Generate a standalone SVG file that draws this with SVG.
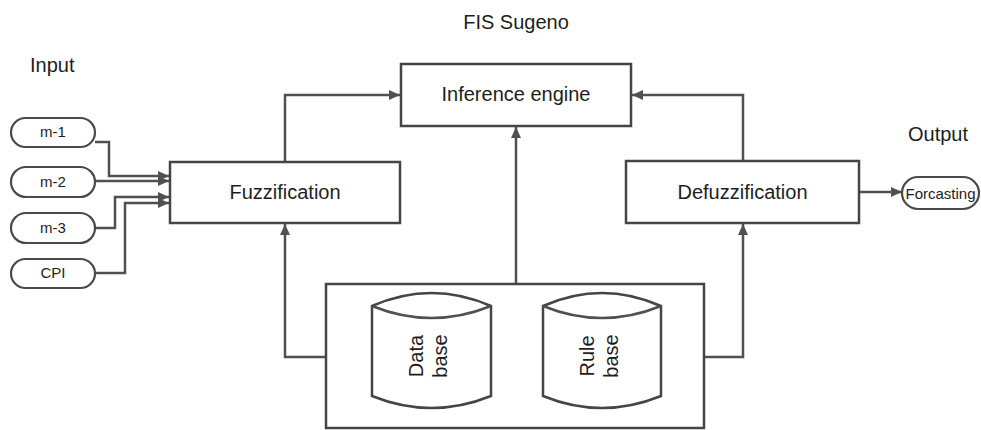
<svg xmlns="http://www.w3.org/2000/svg" width="981" height="430" viewBox="0 0 981 430">
  <style>
    .box { fill: #ffffff; stroke: #454545; stroke-width: 2.5; }
    .pill { fill: #ffffff; stroke: #4a4a4a; stroke-width: 2.2; }
    .wire { fill: none; stroke: #505050; stroke-width: 2.5; }
    .lbl { font-family: "Liberation Sans", Arial, sans-serif; font-size: 20px; fill: #1e1e1e; text-anchor: middle; }
    .small { font-family: "Liberation Sans", Arial, sans-serif; font-size: 15px; fill: #1e1e1e; text-anchor: middle; }
    .title { font-family: "Liberation Sans", Arial, sans-serif; font-size: 20px; fill: #1e1e1e; }
  </style>
  <defs>
    <marker id="arrow" markerUnits="userSpaceOnUse" markerWidth="11" markerHeight="10" refX="11" refY="5" orient="auto">
      <path d="M0,0 L11,5 L0,10 z" fill="#505050"/>
    </marker>
  </defs>

  <rect width="981" height="430" fill="#ffffff"/>

  <!-- headings -->
  <text class="title" x="516" y="29" text-anchor="middle">FIS Sugeno</text>
  <text class="title" x="30" y="72">Input</text>
  <text class="title" x="908" y="141">Output</text>

  <!-- connectors -->
  <g id="connectors">
    <path class="wire" d="M95,142 H109 V176 H169" marker-end="url(#arrow)"/>
    <path class="wire" d="M95,181 H169" marker-end="url(#arrow)"/>
    <path class="wire" d="M95,228 H115 V197 H169" marker-end="url(#arrow)"/>
    <path class="wire" d="M95,273 H125 V203 H169" marker-end="url(#arrow)"/>
    <path class="wire" d="M285,162 V95 H400" marker-end="url(#arrow)"/>
    <path class="wire" d="M743,161 V95 H632" marker-end="url(#arrow)"/>
    <path class="wire" d="M516,284 V127" marker-end="url(#arrow)"/>
    <path class="wire" d="M326,357 H285 V224" marker-end="url(#arrow)"/>
    <path class="wire" d="M704,357 H743 V224" marker-end="url(#arrow)"/>
    <path class="wire" d="M859,192 H902" marker-end="url(#arrow)"/>
  </g>

  <!-- inputs -->
  <g id="in-m1">
    <rect class="pill" x="11" y="118" width="84" height="29" rx="14.5"/>
    <text class="small" x="53" y="137">m-1</text>
  </g>
  <g id="in-m2">
    <rect class="pill" x="11" y="167" width="84" height="30" rx="15"/>
    <text class="small" x="53" y="187">m-2</text>
  </g>
  <g id="in-m3">
    <rect class="pill" x="11" y="213" width="84" height="30" rx="15"/>
    <text class="small" x="53" y="233">m-3</text>
  </g>
  <g id="in-cpi">
    <rect class="pill" x="11" y="259" width="84" height="29" rx="14.5"/>
    <text class="small" x="53" y="278">CPI</text>
  </g>

  <!-- processing blocks -->
  <g id="fuzzification">
    <rect class="box" x="170" y="162" width="230" height="61"/>
    <text class="lbl" x="285" y="199">Fuzzification</text>
  </g>
  <g id="inference">
    <rect class="box" x="401" y="64" width="230" height="62"/>
    <text class="lbl" x="516" y="101">Inference engine</text>
  </g>
  <g id="defuzzification">
    <rect class="box" x="626" y="161" width="233" height="62"/>
    <text class="lbl" x="742.5" y="199">Defuzzification</text>
  </g>

  <!-- output -->
  <g id="out-forcasting">
    <rect class="pill" x="902" y="177" width="77" height="32" rx="16"/>
    <text class="small" x="940.5" y="199">Forcasting</text>
  </g>

  <!-- knowledge base -->
  <g id="knowledge-base">
    <rect class="box" x="326" y="284" width="378" height="144"/>
  </g>
  <g id="data-base">
    <path class="box" d="M372,306 Q431.5,280 491,306 V396 Q431.5,420 372,396 Z"/>
    <path class="wire" d="M372,306 Q431.5,330 491,306"/>
    <text class="lbl" transform="translate(423,356) rotate(-90)">Data</text>
    <text class="lbl" transform="translate(447,356) rotate(-90)">base</text>
  </g>
  <g id="rule-base">
    <path class="box" d="M543,306 Q602,280 661,306 V396 Q602,420 543,396 Z"/>
    <path class="wire" d="M543,306 Q602,330 661,306"/>
    <text class="lbl" transform="translate(594,356) rotate(-90)">Rule</text>
    <text class="lbl" transform="translate(618,356) rotate(-90)">base</text>
  </g>
</svg>
